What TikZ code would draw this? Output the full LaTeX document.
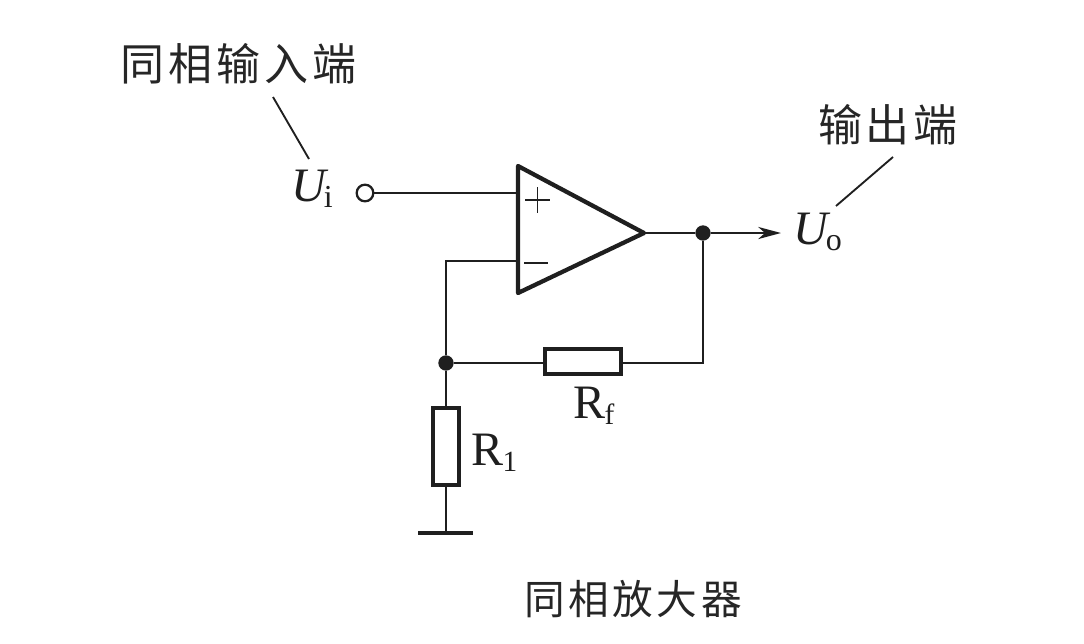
\documentclass[tikz,border=0pt]{standalone}
\usepackage{fontspec}
\usetikzlibrary{arrows.meta}
\setmainfont{Liberation Serif}
\newfontfamily\cjk[LetterSpace=9]{Noto Sans CJK SC}
\newcommand{\subsc}[1]{\kern-3.5pt\raisebox{-5pt}{\fontsize{24}{26}\selectfont\upshape #1}}
\newcommand{\subsr}[1]{\kern-0.5pt\raisebox{-5pt}{\fontsize{22}{24}\selectfont\upshape #1}}
\begin{document}
\begin{tikzpicture}[x=0.75pt,y=-0.75pt,
  wire/.style={line width=2.1pt,color=black!88},
  thick line/.style={line width=3.2pt,color=black!88,line join=round},
  res/.style={draw=black!88,fill=white,line width=2.8pt,inner sep=0pt},
  dotnode/.style={circle,fill=black!88,draw=none,minimum size=11.5pt,inner sep=0pt},
  opennode/.style={circle,draw=black!88,fill=white,line width=1.7pt,minimum size=12.5pt,inner sep=0pt},
  cjklabel/.style={font=\cjk\fontsize{33}{36}\selectfont,text=black!85,inner sep=0pt},
  cjkcap/.style={font=\cjk\fontsize{30.5}{34}\selectfont,text=black!85,inner sep=0pt},
  sym/.style={font=\fontsize{36}{38}\selectfont,text=black!88,inner sep=0pt},
  leader/.style={line width=1.4pt,color=black!88},
  sign/.style={line width=1.3pt,color=black!88}]
\useasboundingbox (0,0) rectangle (1084,643);
% amplifier
\coordinate (tl) at (518,166);
\coordinate (bl) at (518,293);
\coordinate (tip) at (644,233);
\coordinate (plusin) at (518,193);
\coordinate (minusin) at (518,261);
\coordinate (corner) at (446,261);
\coordinate (rcorner) at (703,363);
\coordinate (arrowend) at (781,233);
\coordinate (gnd) at (446,533);
\coordinate (gl) at (418,533);
\coordinate (gr) at (473,533);
% nodes
\node[opennode] (in) at (365,193) {};
\node[dotnode] (out) at (703,233) {};
\node[dotnode] (fb) at (446,363) {};
\node[res,minimum width=57.5pt,minimum height=18.5pt] (rf) at (583,361.5) {};
\node[res,minimum width=19pt,minimum height=57.5pt] (r1) at (446,446.5) {};
% wires
\draw[wire] (in) -- (plusin);
\draw[wire] (minusin) -- (corner) -- (fb);
\draw[wire] (fb) -- (rf.west |- fb);
\draw[wire] (rf.east |- fb) -- (rcorner) -- (out);
\draw[wire] (fb) -- (r1);
\draw[wire] (r1) -- (gnd);
\draw[wire] (tip) -- (out);
\draw[wire,-{Stealth[length=17pt,width=9pt,inset=5pt]}] (out) -- (arrowend);
\draw[thick line] (gl) -- (gr);
\draw[thick line] (tl) -- (tip) -- (bl) -- cycle;
% signs
\coordinate (pl) at (525,200); \coordinate (pr) at (550,200);
\coordinate (pt) at (537.5,187); \coordinate (pb) at (537.5,213);
\coordinate (ml) at (524,263); \coordinate (mr) at (548,263);
\draw[sign] (pl) -- (pr);
\draw[sign] (pt) -- (pb);
\draw[sign] (ml) -- (mr);
% labels
\node[cjklabel] (tin) at (238.5,64) {同相输入端};
\node[cjklabel] (tout) at (888,125) {输出端};
\node[cjkcap] (tcap) at (633,599) {同相放大器};
\node[sym,anchor=base west] (ui) at (291,201) {\textit{U}\subsc{i}};
\node[sym,anchor=base west] (uo) at (793,244) {\textit{U}\subsc{o}};
\node[sym,anchor=base west] (rfl) at (573,418) {R\subsr{f}};
\node[sym,anchor=base west] (r1l) at (471,465) {R\subsr{1}};
% leaders
\coordinate (a1) at (273,97); \coordinate (a2) at (309,159);
\coordinate (b1) at (893,157); \coordinate (b2) at (836,206);
\draw[leader] (a1) -- (a2);
\draw[leader] (b1) -- (b2);
\end{tikzpicture}
\end{document}
